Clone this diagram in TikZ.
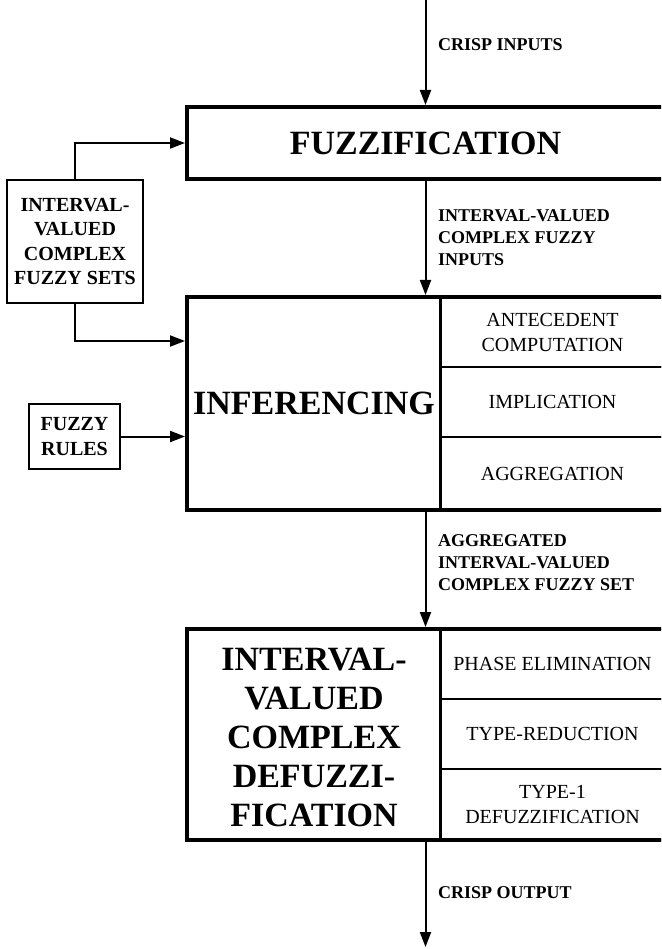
\documentclass[tikz,border=0pt]{standalone}
\usepackage{fontspec}
\setmainfont{Liberation Serif}
\usetikzlibrary{arrows.meta}
\begin{document}
\begin{tikzpicture}[x=1pt,y=-1pt,
  arr/.style={line width=2pt,-{Triangle[length=15pt,width=11pt]}},
  mainbox/.style={draw,line width=4pt,inner sep=0pt,minimum width=477},
  cell/.style={draw,line width=2pt,inner sep=0pt,align=center,minimum width=223,font=\fontsize{20}{25}\selectfont},
  smallbox/.style={draw,line width=2pt,inner sep=0pt,align=center,font=\bfseries\fontsize{20}{24.5}\selectfont},
  lab/.style={inner sep=0pt,align=left,anchor=west,font=\bfseries\fontsize{18}{22}\selectfont},
  big/.style={inner sep=0pt,align=center,font=\bfseries\fontsize{34}{39}\selectfont}]
\useasboundingbox (0,0) rectangle (661,949);
\clip (0,0) rectangle (661,949);

% Fuzzification
\node[mainbox,big,minimum height=72] (fuzz) at (425.5,143) {FUZZIFICATION};

% Inferencing
\node[cell,minimum height=70] (c1) at (552.5,332) {ANTECEDENT\\COMPUTATION};
\node[cell,minimum height=70] (c2) at (552.5,402) {IMPLICATION};
\node[cell,minimum height=73] (c3) at (552.5,473.5) {AGGREGATION};
\node[mainbox,minimum height=213] (inf) at (425.5,403.5) {};
\node[big] (inftxt) at (314,403.5) {INFERENCING};
\draw[line width=3pt] (inf.north -| c1.west) -- (inf.south -| c1.west);

% Defuzzification
\node[cell,minimum height=70] (d1) at (552.5,664) {PHASE ELIMINATION};
\node[cell,minimum height=70] (d2) at (552.5,734) {TYPE-REDUCTION};
\node[cell,minimum height=71] (d3) at (552.5,804.5) {TYPE-1\\DEFUZZIFICATION};
\node[mainbox,minimum height=211] (defuzz) at (425.5,734.5) {};
\node[big] (deftxt) at (314,737) {INTERVAL-\\VALUED\\COMPLEX\\DEFUZZI-\\FICATION};
\draw[line width=3pt] (defuzz.north -| d1.west) -- (defuzz.south -| d1.west);

% Side boxes
\node[smallbox,minimum width=136,minimum height=123] (ivcfs) at (75,241.5) {INTERVAL-\\VALUED\\COMPLEX\\FUZZY SETS};
\node[smallbox,minimum width=91,minimum height=65] (rules) at (74.5,436.5) {FUZZY\\RULES};

% Connectors
\coordinate (in) at (425.5,0);
\coordinate (out) at (425.5,947);
\path (inf.west) ++(0,-62.5) coordinate (infin);
\draw[arr] (in) -- (fuzz.north);
\draw[arr] (fuzz.south) -- (inf.north);
\draw[arr] (inf.south) -- (defuzz.north);
\draw[arr] (defuzz.south) -- (out);
\draw[arr] (ivcfs.north) |- (fuzz.west);
\draw[arr] (ivcfs.south) |- (infin);
\draw[arr] (rules.east) -- (rules.east -| inf.west);

% Labels
\node[lab] (l1) at (438,45) {CRISP INPUTS};
\node[lab] (l2) at (438,238) {INTERVAL-VALUED\\COMPLEX FUZZY\\INPUTS};
\node[lab] (l3) at (438,563) {AGGREGATED\\INTERVAL-VALUED\\COMPLEX FUZZY SET};
\node[lab] (l4) at (438,893) {CRISP OUTPUT};
\end{tikzpicture}
\end{document}
